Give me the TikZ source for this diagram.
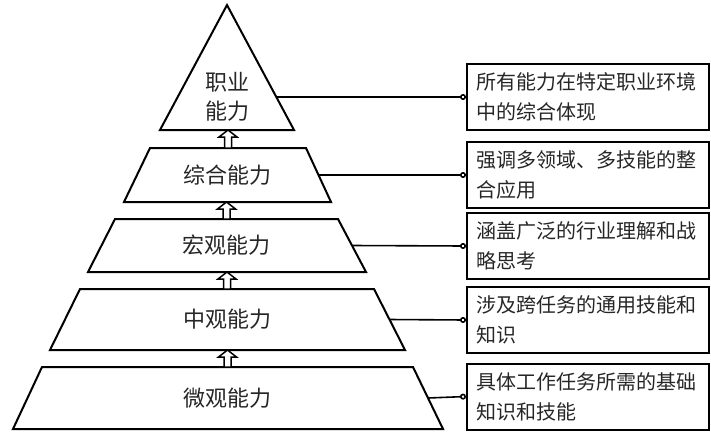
\documentclass[tikz,border=0pt]{standalone}
\usepackage{fontspec}
\newfontfamily\cjk{Noto Sans CJK SC}
\usetikzlibrary{calc,arrows.meta}
\newcommand\blockarr[2]{%
  \draw[up] let \p1=(#1), \p2=(#2) in
    (\x1-3.5pt,\y1) -- (\x1-3.5pt,\y2-7pt) -- (\x1-9pt,\y2-7pt) -- (\x1,\y2)
    -- (\x1+9pt,\y2-7pt) -- (\x1+3.5pt,\y2-7pt) -- (\x1+3.5pt,\y1) -- cycle;}
% #1 name, #2 ytop, #3 ybot, #4 xtl, #5 xtr, #6 xbl, #7 xbr, #8 text
\newcommand\level[8]{%
  \coordinate (#1-tl) at (#4,#2);
  \coordinate (#1-tr) at (#5,#2);
  \coordinate (#1-bl) at (#6,#3);
  \coordinate (#1-br) at (#7,#3);
  \draw[shapeline] (#1-tl) -- (#1-tr) -- (#1-br) -- (#1-bl) -- cycle;
  \coordinate (#1-n) at ($(#1-tl)!0.5!(#1-tr)$);
  \coordinate (#1-s) at ($(#1-bl)!0.5!(#1-br)$);
  \coordinate (#1-e) at ($(#1-tr)!0.5!(#1-br)$);
  \node[lbl] (#1) at ($(#1-n)!0.5!(#1-s)$) {#8};}
\begin{document}
\begin{tikzpicture}[x=1pt,y=-1pt,
  lbl/.style={inner sep=0pt, align=center, font=\cjk\fontsize{22}{29}\selectfont, text=black!85},
  desc/.style={draw, line width=2pt, minimum width=242pt, minimum height=66pt,
    text width=224pt, align=left, inner xsep=9pt,
    font=\cjk\fontsize{20}{30}\selectfont, text=black!85},
  link/.style={line width=1.6pt, -{Circle[open,length=6pt,width=6pt,line width=1.6pt]}},
  shapeline/.style={line width=2pt, line join=miter},
  up/.style={line width=1.5pt, fill=white}]
\useasboundingbox (0,0) rectangle (711,432);
% triangle
\coordinate (apex) at (227,5);
\coordinate (br) at (294,130);
\coordinate (bl) at (160,130);
\coordinate (bm) at (227,130);
\draw[shapeline] (apex) -- (br) -- (bl) -- cycle;
\node[lbl] (l5) at (227,97) {职业\\能力};
\coordinate (l5e) at ($(apex)!0.736!(br)$);
% trapezoids
\level{l4}{148}{202}{150}{306}{124}{331}{综合能力}
\level{l3}{219}{272}{115}{338}{88}{366}{宏观能力}
\level{l2}{289}{350}{80}{374}{50}{405}{中观能力}
\level{l1}{367}{429}{42}{413}{13}{443}{微观能力}
% arrows
\blockarr{l4-n}{bm}
\blockarr{l3-n}{l4-s}
\blockarr{l2-n}{l3-s}
\blockarr{l1-n}{l2-s}
% description boxes
\node[desc] (d5) at (588,97) {所有能力在特定职业环境\\中的综合体现};
\node[desc] (d4) at (588,175) {强调多领域、多技能的整\\合应用};
\node[desc] (d3) at (588,246) {涵盖广泛的行业理解和战\\略思考};
\node[desc] (d2) at (588,320) {涉及跨任务的通用技能和\\知识};
\node[desc] (d1) at (588,396.5) {具体工作任务所需的基础\\知识和技能};
% connectors
\draw[link] (l5e) -- (d5.west);
\draw[link] (l4-e) -- (d4.west);
\draw[link] (l3-e) -- (d3.west);
\draw[link] (l2-e) -- (d2.west);
\draw[link] (l1-e) -- (d1.west);
\end{tikzpicture}
\end{document}
